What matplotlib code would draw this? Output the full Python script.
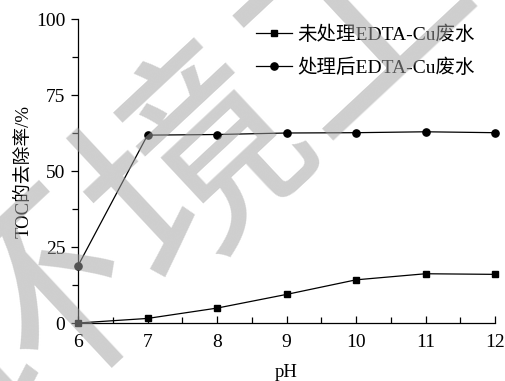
import matplotlib
matplotlib.use("Agg")
import matplotlib.pyplot as plt
from matplotlib.ticker import MultipleLocator

plt.rcParams['font.family'] = ['Liberation Serif', 'Noto Sans CJK SC']

# TOC removal vs pH
ph = [6, 7, 8, 9, 10, 11, 12]
untreated = [0.0, 1.5, 4.9, 9.4, 14.2, 16.2, 16.0]
treated = [18.8, 61.8, 62.0, 62.5, 62.6, 62.9, 62.6]
labels = ['未处理EDTA-Cu废水', '处理后EDTA-Cu废水']

W, H = 505, 381
fig = plt.figure(figsize=(W / 100, H / 100), dpi=100)
ax = fig.add_axes([78 / W, 1 - 323 / H, 417 / W, 304 / H])

ax.plot(ph, untreated, '-s', color='black', lw=0.9, ms=5, label=labels[0], clip_on=False, zorder=3)
ax.plot(ph, treated, '-o', color='black', lw=0.9, ms=5.2, label=labels[1], clip_on=False, zorder=3)

ax.set_xlim(6, 12)
ax.set_ylim(0, 100)
ax.xaxis.set_major_locator(MultipleLocator(1))
ax.xaxis.set_minor_locator(MultipleLocator(0.5))
ax.yaxis.set_major_locator(MultipleLocator(25))
ax.yaxis.set_minor_locator(MultipleLocator(12.5))
for s in ['top', 'right']:
    ax.spines[s].set_visible(False)
for s in ['left', 'bottom']:
    ax.spines[s].set_linewidth(0.9)
ax.tick_params(axis='x', which='both', direction='in', labelsize=14, pad=8, width=0.9)
ax.tick_params(axis='x', which='major', length=5)
ax.tick_params(axis='x', which='minor', length=4)
ax.tick_params(axis='y', which='both', direction='out', labelsize=14, pad=4, width=0.9)
ax.tick_params(axis='y', which='major', length=5)
ax.tick_params(axis='y', which='minor', length=4)

ax.set_xlabel('pH', fontsize=13.5, labelpad=9)
ax.set_ylabel('TOC的去除率/%', fontsize=13.5, labelpad=3)

ax.legend(loc='upper right', frameon=False, fontsize=14, handlelength=1.85,
          handletextpad=0.3, labelspacing=0.72, borderaxespad=0.0,
          bbox_to_anchor=(1 - 12 / 417, 1 + 1 / 304))

# journal watermark laid diagonally over the figure
wm = dict(fontsize=158, color='#a2a2a2', alpha=0.52, family='Noto Sans CJK SC',
          fontweight='medium', ha='center', va='center', rotation=43, zorder=10)
for ch, (px, py) in zip('环境工', [(40, 320), (200, 170), (360, 20)]):
    fig.text(px / W, 1 - py / H, ch, **wm)

fig.savefig('out.png', dpi=100)
